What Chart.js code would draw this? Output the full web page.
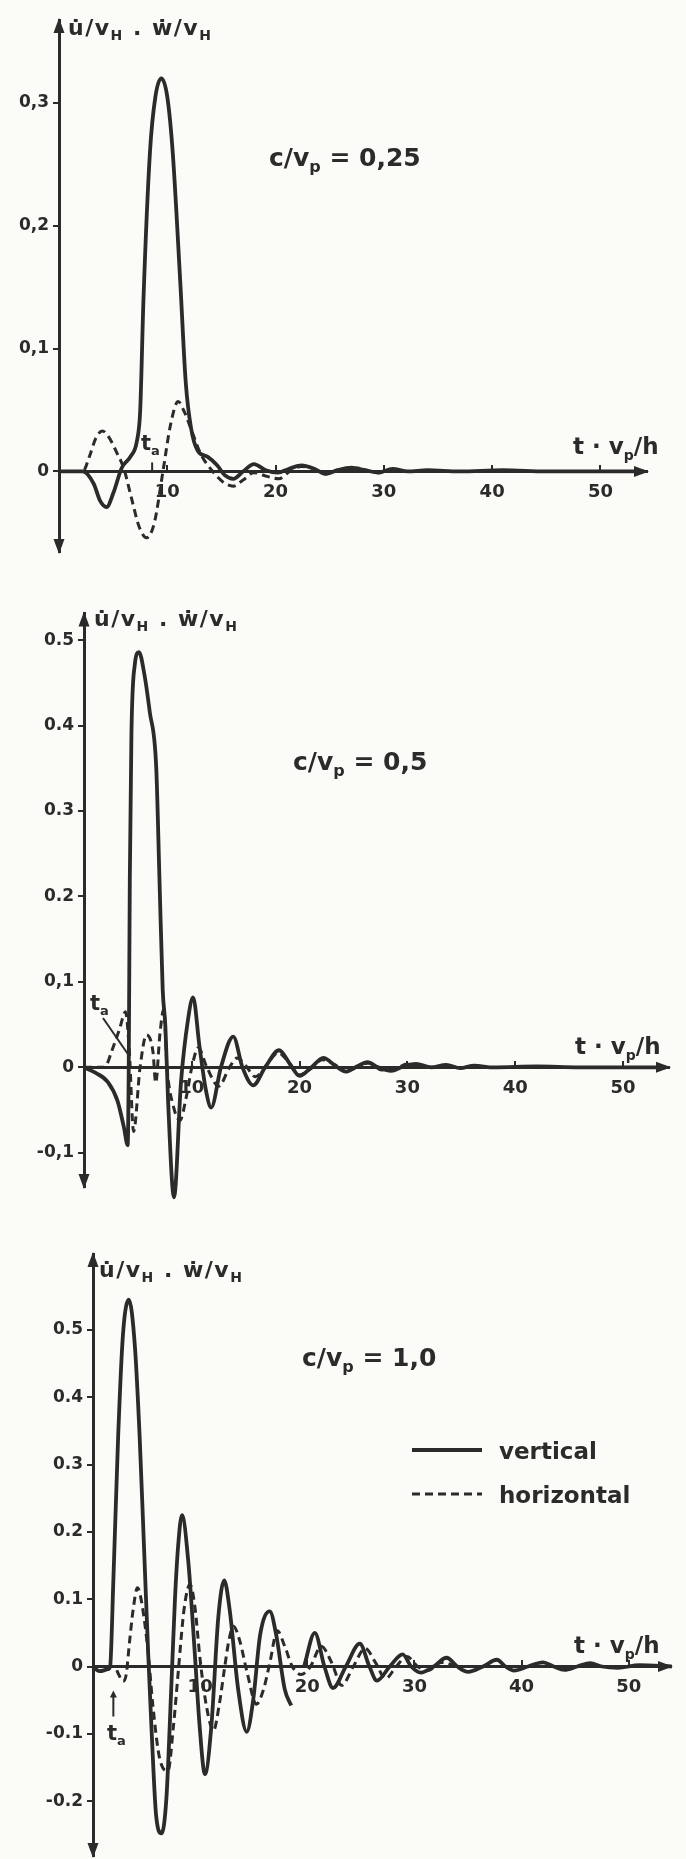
<!DOCTYPE html>
<html>
<head>
<meta charset="utf-8">
<title>Velocity response for c/vp = 0,25 / 0,5 / 1,0</title>
<script src="https://cdn.jsdelivr.net/npm/chart.js@4.4.0/dist/chart.umd.min.js"></script>
<style>
  html, body { margin: 0; padding: 0; background: #fbfbf8; }
  #page { position: relative; width: 686px; height: 1859px; overflow: hidden; }
  canvas { position: absolute; left: 0; }
</style>
</head>
<body>
<div id="page">
  <canvas id="c1" width="686" height="580" style="top:0px"></canvas>
  <canvas id="c2" width="686" height="650" style="top:580px"></canvas>
  <canvas id="c3" width="686" height="629" style="top:1230px"></canvas>
</div>

<script>
// ---- data (t * vp / h  ->  velocity / vH) ----

// c/vp = 0,25
var t1v = [0, 1, 2.2, 3.2, 3.8, 4.4, 5.0, 5.8, 6.6, 7.2, 7.5, 7.8, 8.4, 8.9, 9.45, 10.0, 10.5, 11.2, 11.7, 12.2,
           12.8, 13.7, 14.6, 15.3, 16.1, 17.0, 18.0, 19.1, 20.2, 21.2, 22.4, 23.6, 24.6, 25.7, 27.0, 28.3, 29.5, 30.8, 32.2, 34,
           37, 41, 45, 50, 54];
var v1v = [0, 0, 0, -0.01, -0.024, -0.029, -0.018, 0.003, 0.012, 0.025, 0.05, 0.14, 0.26, 0.305, 0.32, 0.305, 0.26, 0.154, 0.073, 0.035,
           0.017, 0.012, 0.005, -0.003, -0.006, 0, 0.006, 0.001, -0.001, 0.002, 0.005, 0.002, -0.002, 0.001, 0.003, 0.001, -0.001, 0.002, 0, 0.001,
           0, 0.001, 0, 0, 0];
var t1h = [0, 2.2, 2.8, 3.4, 4.0, 4.6, 5.3, 6.0, 6.7, 7.4, 8.1, 8.8, 9.6, 10.3, 11.0, 11.6, 12.3, 13.1, 14.2, 15.2,
           16.1, 17.0, 18.0, 19.2, 20.3, 21.3, 22.4, 23.6, 24.6, 25.7, 27.0, 28.3, 29.5, 30.8, 32.2, 34];
var h1h = [0, 0, 0.012, 0.027, 0.033, 0.028, 0.016, 0.002, -0.022, -0.045, -0.054, -0.042, 0, 0.038, 0.057, 0.048, 0.032, 0.014, 0.0, -0.009,
           -0.012, -0.007, -0.001, -0.004, -0.006, 0.0, 0.004, 0.002, -0.002, 0.001, 0.002, 0.001, -0.001, 0.001, 0, 0];

// c/vp = 0,5
var t2v = [0, 1.0, 2.2, 3.1, 3.7, 4.05, 4.15, 4.25, 4.4, 4.7, 5.1, 5.6, 6.1, 6.7, 7.0, 7.3, 7.55, 7.8, 8.35, 9.0,
           9.65, 10.12, 10.7, 11.3, 11.8, 12.7, 13.85, 14.7, 15.7, 16.8, 18.1, 19.1, 20.0, 21.1, 22.2, 23.3, 24.3, 25.3, 26.3, 27.3,
           28.5, 29.6, 30.8, 32.2, 33.6, 34.9, 36.2, 38, 42, 46, 50, 54];
var v2v = [0, -0.006, -0.017, -0.039, -0.07, -0.091, 0.0, 0.22, 0.39, 0.47, 0.486, 0.46, 0.416, 0.351, 0.221, 0.091, 0.048, -0.039, -0.152, -0.017,
           0.056, 0.082, 0.026, -0.026, -0.047, 0, 0.036, 0, -0.021, 0, 0.02, 0.004, -0.01, 0, 0.011, 0.002, -0.005, 0.001, 0.006, 0.0,
           -0.004, 0.001, 0.004, 0, 0.003, -0.001, 0.002, 0, 0.001, 0, 0, 0];
var t2h = [0, 1.9, 2.6, 3.3, 3.85, 4.2, 4.6, 5.2, 5.8, 6.4, 6.65, 7.05, 7.4, 7.7, 8.3, 8.9, 9.5, 10.0, 10.6, 11.4,
           12.5, 13.5, 14.2, 15.0, 15.9, 17.0, 18.0, 19.0, 19.9, 21.0, 22.1, 23.3, 24.4, 25.4, 26.4, 27.6, 28.8, 30.0, 31.0, 32.2,
           34];
var h2h = [0, 0, 0.02, 0.045, 0.065, 0.02, -0.075, 0, 0.038, 0.018, -0.018, 0.04, 0.068, 0.0, -0.046, -0.062, -0.034, 0, 0.023, 0,
           -0.022, 0, 0.011, 0.002, -0.011, 0.004, 0.017, 0.006, -0.009, -0.002, 0.009, 0.003, -0.005, 0.001, 0.005, -0.003, -0.002, 0.004, 0.001, 0,
           0];

// c/vp = 1,0  (null = pen lifted near the "20" label)
var t3v = [0, 0.6, 1.4, 1.6, 1.9, 2.35, 2.8, 3.35, 3.9, 4.35, 4.75, 5.15, 5.45, 5.9, 6.4, 6.85, 7.3, 7.65, 7.95, 8.3,
           8.9, 9.5, 9.95, 10.45, 11.05, 11.7, 12.25, 12.75, 13.55, 14.35, 14.95, 15.6, 16.5, 17.1, 17.9, 18.5, 19.1, 19.7, 20.7, 21.6,
           22.4, 23.6, 24.9, 25.8, 26.5, 27.7, 28.9, 29.7, 30.6, 31.8, 33.0, 34.0, 35.0, 36.4, 37.7, 38.5, 39.3, 40.6, 42.0, 43.0,
           44.0, 45.2, 46.4, 47.5, 49.0, 51.0, 54.0];
var v3v = [0, -0.007, -0.004, 0.0, 0.128, 0.343, 0.494, 0.545, 0.478, 0.343, 0.182, 0.02, -0.088, -0.223, -0.248, -0.196, -0.034, 0.1, 0.18, 0.225,
           0.155, 0.02, -0.088, -0.16, -0.088, 0.074, 0.128, 0.085, -0.034, -0.097, -0.05, 0.047, 0.082, 0.047, -0.034, -0.058, null, 0.0, 0.05, 0.0,
           -0.032, 0.0, 0.034, 0.0, -0.021, 0.0, 0.018, 0.0, -0.009, 0.0, 0.013, 0.0, -0.008, 0.0, 0.01, 0.0, -0.006, 0.0, 0.006, 0.0,
           -0.005, 0.0, 0.005, 0.0, -0.002, 0.002, 0];
var t3h = [0, 2.0, 2.4, 2.8, 3.1, 3.4, 3.75, 4.15, 4.6, 5.15, 5.6, 6.2, 7.0, 7.5, 8.0, 8.5, 9.05, 9.5, 10.0, 10.6,
           11.25, 11.8, 12.3, 12.7, 13.1, 13.7, 14.4, 15.25, 15.9, 16.5, 17.2, 17.9, 18.6, 19.4, 20.3, 21.3, 22.3, 23.2, 24.3, 25.4,
           26.4, 27.3, 28.3, 29.3, 30.3, 31.3, 32.5, 34];
var h3h = [0, 0, -0.012, -0.022, -0.012, 0.035, 0.085, 0.117, 0.09, 0.02, -0.06, -0.135, -0.155, -0.09, 0.0, 0.085, 0.122, 0.09, 0.01, -0.06,
           -0.095, -0.055, 0.0, 0.04, 0.06, 0.038, -0.01, -0.056, -0.035, 0.005, 0.053, 0.03, 0.0, -0.012, 0.0, 0.03, 0.005, -0.028, 0.0, 0.027,
           0.005, -0.018, 0.0, 0.015, 0.0, -0.006, 0.006, 0];

// tick values / labels
var xTicks = [10, 20, 30, 40, 50];
var yTicks1 = [0, 0.1, 0.2, 0.3];
var yLabels1 = ['0', '0,1', '0,2', '0,3'];
var yTicks2 = [-0.1, 0, 0.1, 0.2, 0.3, 0.4, 0.5];
var yLabels2 = ['-0,1', '0', '0,1', '0.2', '0.3', '0.4', '0.5'];
var yTicks3 = [-0.2, -0.1, 0, 0.1, 0.2, 0.3, 0.4, 0.5];
var yLabels3 = ['-0.2', '-0.1', '0', '0.1', '0.2', '0.3', '0.4', '0.5'];
var ratios = ['0,25', '0,5', '1,0'];
var arrivals = [8.6, 4.1, 1.9];   // t_a markers

var INK = '#2b2b2b';
var FONT = '"DejaVu Sans", "Liberation Sans", sans-serif';

function pts(xs, ys) {
    return xs.map(function (x, i) { return { x: x, y: ys[i] }; });
}

// filled arrow head, tip at (x,y), pointing along (dx,dy)
function arrowHead(ctx, x, y, dx, dy, len, half) {
    var bx = x - dx * len, by = y - dy * len;
    ctx.beginPath();
    ctx.moveTo(x, y);
    ctx.lineTo(bx - dy * half, by + dx * half);
    ctx.lineTo(bx + dy * half, by - dx * half);
    ctx.closePath();
    ctx.fill();
}

// text with subscripts: parts = [[text, isSub], ...]
function rich(ctx, parts, x, y, size, spacing) {
    var cx = x;
    ctx.letterSpacing = (spacing || 0) + 'px';
    parts.forEach(function (p) {
        var fs = p[1] ? Math.round(size * 0.62) : size;
        ctx.font = 'bold ' + fs + 'px ' + FONT;
        ctx.fillText(p[0], cx, p[1] ? y + size * 0.24 : y);
        cx += ctx.measureText(p[0]).width;
    });
    ctx.letterSpacing = '0px';
}

var decor = {
    id: 'decor',
    afterDraw: function (chart, args, o) {
        var ctx = chart.ctx, a = chart.chartArea;
        var xs = chart.scales.x, ys = chart.scales.y;
        var y0 = ys.getPixelForValue(0);
        ctx.save();
        ctx.fillStyle = INK;
        ctx.strokeStyle = INK;
        ctx.textBaseline = 'alphabetic';
        ctx.textAlign = 'left';

        // axis arrows
        arrowHead(ctx, a.left, a.top - 2, 0, -1, 15, 5.5);
        arrowHead(ctx, a.left, a.bottom + 2, 0, 1, 15, 5.5);
        arrowHead(ctx, a.right + 2, y0, 1, 0, 15, 5.5);

        // axis titles and parameter
        rich(ctx, [['u\u0307/v', 0], ['H', 1], [' . \u1e87/v', 0], ['H', 1]], o.axisTitle[0], o.axisTitle[1], 22, 1.5);
        rich(ctx, [['t \u00b7 v', 0], ['p', 1], ['/h', 0]], o.tLabel[0], o.tLabel[1], 23);
        rich(ctx, [['c/v', 0], ['p', 1], [' = ' + ratios[o.idx], 0]], o.title[0], o.title[1], 25);

        // arrival time t_a
        rich(ctx, [['t', 0], ['a', 1]], o.ta[0], o.ta[1], 21);
        var tx = xs.getPixelForValue(arrivals[o.idx]);
        ctx.lineWidth = 2;
        ctx.setLineDash([]);
        if (o.taKind === 'tick') {
            ctx.beginPath(); ctx.moveTo(tx, y0); ctx.lineTo(tx, y0 - 9); ctx.stroke();
        } else if (o.taKind === 'line') {
            ctx.beginPath(); ctx.moveTo(o.ta[0] + 13, o.ta[1] + 8);
            ctx.lineTo(tx, ys.getPixelForValue(0.015)); ctx.stroke();
        } else {
            ctx.beginPath(); ctx.moveTo(tx, y0 + 50); ctx.lineTo(tx, y0 + 30); ctx.stroke();
            arrowHead(ctx, tx, y0 + 24, 0, -1, 7, 3.5);
        }

        // legend (last panel only)
        if (o.legend) {
            var ds = chart.data.datasets;
            [0, 1].forEach(function (i) {
                var ly = o.legend[1] + i * 44;
                ctx.lineWidth = ds[i].borderWidth;
                ctx.setLineDash(ds[i].borderDash || []);
                ctx.beginPath(); ctx.moveTo(o.legend[0], ly); ctx.lineTo(o.legend[0] + 70, ly); ctx.stroke();
                ctx.setLineDash([]);
                ctx.font = 'bold 23px ' + FONT;
                ctx.fillText(ds[i].label, o.legend[0] + 87, ly + 9);
            });
        }
        ctx.restore();
    }
};

function makeChart(id, tv, vv, th, hh, yTicks, yLabels, L) {
    return new Chart(document.getElementById(id), {
        type: 'line',
        data: {
            datasets: [
                { label: 'vertical', data: pts(tv, vv), borderColor: INK, borderWidth: 3.8,
                  pointRadius: 0, cubicInterpolationMode: 'monotone', clip: false },
                { label: 'horizontal', data: pts(th, hh), borderColor: INK, borderWidth: 3,
                  borderDash: [8, 5], pointRadius: 0, cubicInterpolationMode: 'monotone', clip: false }
            ]
        },
        options: {
            responsive: false,
            devicePixelRatio: 1,
            animation: false,
            events: [],
            layout: { padding: { left: 0, top: L.top, bottom: L.bottom, right: L.right } },
            plugins: { legend: { display: false }, tooltip: { enabled: false }, decor: L },
            scales: {
                x: {
                    type: 'linear', min: 0, max: L.xMax,
                    position: { y: 0 },
                    afterBuildTicks: function (s) { s.ticks = xTicks.map(function (v) { return { value: v }; }); },
                    afterFit: function (s) { s.height = 0; s.paddingLeft = 0; s.paddingRight = 0; },
                    grid: { drawOnChartArea: false, drawTicks: true, tickLength: -8, color: INK, lineWidth: 2 },
                    border: { display: true, color: INK, width: 3 },
                    ticks: { color: INK, padding: 18, maxRotation: 0, autoSkip: false,
                             font: { family: FONT, size: 18, weight: 'bold' } }
                },
                y: {
                    type: 'linear', min: L.yMin, max: L.yMax, position: 'left',
                    afterBuildTicks: function (s) { s.ticks = yTicks.map(function (v) { return { value: v }; }); },
                    afterFit: function (s) { s.width = L.axisX; s.paddingTop = 0; s.paddingBottom = 0; },
                    grid: { drawOnChartArea: false, drawTicks: true, tickLength: 6, color: INK, lineWidth: 2 },
                    border: { display: true, color: INK, width: 3 },
                    ticks: { color: INK, padding: 4, autoSkip: false,
                             callback: function (v, i) { return yLabels[i]; },
                             font: { family: FONT, size: 17, weight: 'bold' } }
                }
            }
        },
        plugins: [decor]
    });
}

makeChart('c1', t1v, v1v, t1h, h1h, yTicks1, yLabels1, {
    idx: 0, axisX: 59, top: 20, bottom: 28, right: 39, xMax: 54.3, yMin: -0.0656, yMax: 0.3676,
    axisTitle: [68, 35], title: [269, 166], tLabel: [573, 454], ta: [141, 450], taKind: 'tick'
});
makeChart('c2', t2v, v2v, t2h, h2h, yTicks2, yLabels2, {
    idx: 1, axisX: 84, top: 33.6, bottom: 43, right: 17, xMax: 54.27, yMin: -0.140, yMax: 0.531,
    axisTitle: [94, 46], title: [293, 190], tLabel: [575, 474], ta: [90, 430], taKind: 'line'
});
makeChart('c3', t3v, v3v, t3h, h3h, yTicks3, yLabels3, {
    idx: 2, axisX: 93, top: 24, bottom: 3, right: 15, xMax: 53.95, yMin: -0.2816, yMax: 0.613,
    axisTitle: [99, 47], title: [302, 136], tLabel: [574, 423], ta: [107, 510], taKind: 'arrow',
    legend: [412, 220]
});
</script>
</body>
</html>
